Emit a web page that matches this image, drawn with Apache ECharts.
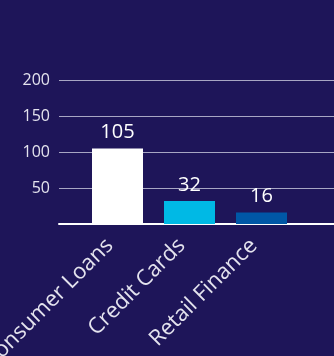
<!DOCTYPE html>
<html>
<head>
<meta charset="utf-8">
<script src="https://cdn.jsdelivr.net/npm/echarts@6/dist/echarts.min.js"></script>
<style>
html,body{margin:0;padding:0;background:#1e1559;}
#c{width:334px;height:356px;}
</style>
</head>
<body>
<div id="c"></div>
<script>
const categories = ['Consumer Loans', 'Credit Cards', 'Retail Finance'];
const values = [105, 32, 16];
const barColors = ['#ffffff', '#00b9e5', '#0057a6'];
const yTicks = [0, 50, 100, 150, 200];

const FONT = '"Open Sans", "Noto Sans", sans-serif';
const chart = echarts.init(document.getElementById('c'), null, {renderer: 'canvas'});
chart.setOption({
  backgroundColor: '#1e1559',
  animation: false,
  grid: [
    {left: 59, right: 0, top: 80, bottom: 132, outerBoundsMode: 'none', containLabel: false},
    {left: 81.5, width: 216, top: 80, bottom: 132, outerBoundsMode: 'none', containLabel: false}
  ],
  xAxis: [
    {gridIndex: 0, type: 'category', data: [''],
     axisLine: {show: true, lineStyle: {color: '#ffffff', width: 2}},
     axisTick: {show: false}, axisLabel: {show: false}, splitLine: {show: false}},
    {gridIndex: 1, type: 'category', data: categories,
     axisLine: {show: false}, axisTick: {show: false},
     axisLabel: {rotate: 45, margin: 26, verticalAlign: 'bottom', color: '#e4e3ee', fontSize: 22, fontFamily: FONT, interval: 0}}
  ],
  yAxis: [
    {gridIndex: 0, type: 'value', min: yTicks[0], max: yTicks[yTicks.length - 1], interval: 50,
     axisLine: {show: false}, axisTick: {show: false},
     axisLabel: {margin: 9, color: '#e4e3ee', fontSize: 16, fontFamily: FONT,
       formatter: v => (v === 0 ? '' : String(v))},
     splitLine: {show: true, lineStyle: {color: '#a8a6c4', width: 1},
       showMinLine: false}},
    {gridIndex: 1, type: 'value', min: yTicks[0], max: yTicks[yTicks.length - 1], interval: 50,
     show: false, splitLine: {show: false}}
  ],
  series: [{
    type: 'bar', xAxisIndex: 1, yAxisIndex: 1,
    barWidth: 51,
    data: values.map((v, i) => ({value: v, itemStyle: {color: barColors[i]}})),
    label: {show: true, position: 'top', distance: 6, color: '#ffffff', fontSize: 20, fontFamily: FONT}
  }]
});
</script>
</body>
</html>
